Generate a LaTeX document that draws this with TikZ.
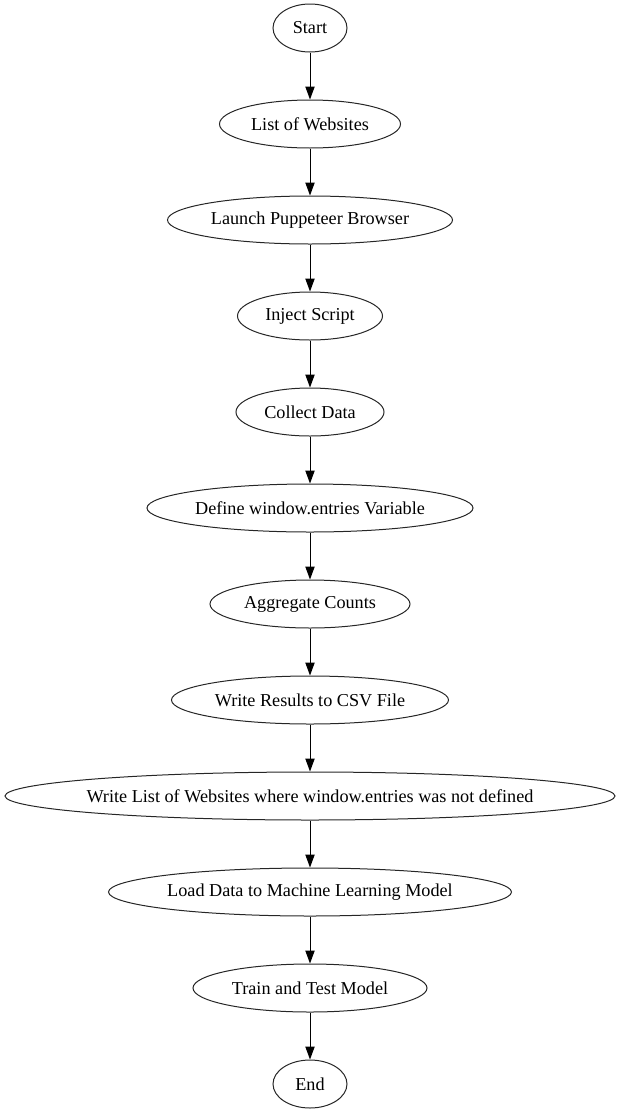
\documentclass[tikz,border=0pt]{standalone}
\usepackage{fontspec}
\setmainfont{Liberation Serif}
\usetikzlibrary{positioning, arrows.meta, shapes.geometric}

\begin{document}
\begin{tikzpicture}[node distance=35.25pt,
    stage/.style={ellipse, draw=black!85, line width=0.75pt, minimum height=36pt, inner xsep=-12pt, inner ysep=0pt, font=\fontsize{13.65pt}{16pt}\selectfont},
    flow/.style={-{Triangle[length=9.75pt, width=7pt]}, black, line width=0.75pt}]

    \useasboundingbox (0,0) rectangle (466.5pt,-835.5pt);

    \node[stage, minimum width=55.5pt] (start) at (232.5pt,-21pt) {Start};
    \node[stage, minimum width=135.75pt, below=of start] (sites) {List of Websites};
    \node[stage, minimum width=213.75pt, below=of sites] (launch) {Launch Puppeteer Browser};
    \node[stage, minimum width=108.75pt, below=of launch] (inject) {Inject Script};
    \node[stage, minimum width=111pt, below=of inject] (collect) {Collect Data};
    \node[stage, minimum width=244.5pt, below=of collect] (define) {Define window.entries Variable};
    \node[stage, minimum width=150pt, below=of define] (aggregate) {Aggregate Counts};
    \node[stage, minimum width=207.75pt, below=of aggregate] (csv) {Write Results to CSV File};
    \node[stage, minimum width=457.5pt, below=of csv] (missing) {Write List of Websites where window.entries was not defined};
    \node[stage, minimum width=302.25pt, below=of missing] (load) {Load Data to Machine Learning Model};
    \node[stage, minimum width=175.5pt, below=of load] (train) {Train and Test Model};
    \node[stage, minimum width=55.5pt, below=of train] (stop) {End};

    \draw[flow] (start) -- (sites);
    \draw[flow] (sites) -- (launch);
    \draw[flow] (launch) -- (inject);
    \draw[flow] (inject) -- (collect);
    \draw[flow] (collect) -- (define);
    \draw[flow] (define) -- (aggregate);
    \draw[flow] (aggregate) -- (csv);
    \draw[flow] (csv) -- (missing);
    \draw[flow] (missing) -- (load);
    \draw[flow] (load) -- (train);
    \draw[flow] (train) -- (stop);
\end{tikzpicture}
\end{document}
